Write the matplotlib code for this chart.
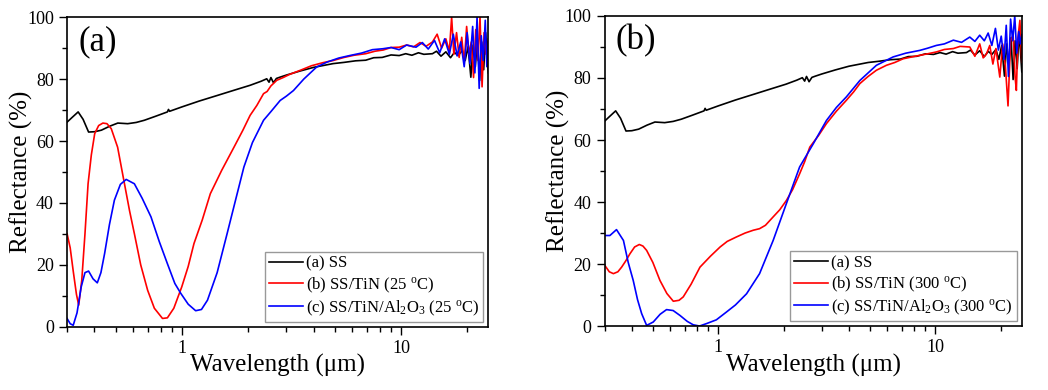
import matplotlib
matplotlib.use('Agg')
import matplotlib.pyplot as plt
from matplotlib.ticker import MultipleLocator, LogLocator, NullFormatter

plt.rcParams['font.family'] = ['Liberation Serif', 'DejaVu Serif']
plt.rcParams['mathtext.fontset'] = 'custom'
plt.rcParams['mathtext.rm'] = 'Liberation Serif'
plt.rcParams['mathtext.it'] = 'Liberation Serif:italic'

# SS substrate (same sample in both panels)
wl_ss = [0.30, 0.315, 0.337, 0.355, 0.376, 0.40, 0.43, 0.47, 0.511, 0.567, 0.62, 0.675, 0.76,
         0.86, 0.87, 0.88, 1.0, 1.2, 1.45, 1.75, 2.05, 2.3, 2.44, 2.5, 2.55, 2.62, 2.7, 2.8,
         3.0, 3.46, 4.0, 4.9, 5.5, 6.2, 6.9, 7.5, 8.2, 9.0, 9.8, 10.5, 11.2, 12.0, 12.7, 13.9,
         14.5, 15.2, 16.0, 16.8, 17.5, 18.2, 19.0, 19.6, 20.2, 20.8, 21.3, 21.8, 22.3, 22.8,
         23.3, 23.8, 24.3, 25.0]
r_ss = [66.1, 67.5, 69.4, 67.0, 62.9, 63.0, 63.5, 64.8, 65.8, 65.6, 66.0, 66.7, 68.0,
        69.4, 70.2, 69.6, 71.0, 72.9, 74.7, 76.5, 78.0, 79.3, 80.1, 79.0, 80.5, 78.8, 80.2, 80.6,
        81.3, 82.6, 83.8, 85.0, 85.4, 85.9, 86.1, 86.9, 87.0, 87.8, 87.6, 88.2, 87.7, 88.5, 88.0, 88.2,
        89.0, 87.4, 88.8, 86.9, 88.6, 87.6, 89.2, 86.0, 90.5, 80.6, 91.0, 84.0, 93.0, 79.5,
        92.0, 83.0, 95.0, 82.0]

# (a) as-deposited, 25 C
wl_tin_25 = [0.30, 0.31, 0.32, 0.331, 0.339, 0.35, 0.362, 0.374, 0.387, 0.401, 0.418, 0.437, 0.456,
             0.477, 0.51, 0.548, 0.578, 0.608, 0.65, 0.699, 0.75, 0.817, 0.86, 0.92, 1.0, 1.07,
             1.137, 1.24, 1.35, 1.52, 1.73, 1.9, 2.05, 2.2, 2.36, 2.45, 2.55, 2.71, 2.9, 3.1, 3.46,
             3.9, 4.4, 4.9, 5.5, 6.1, 6.9, 7.6, 8.3, 9.0, 9.8, 10.6, 11.4, 12.2, 13.0, 13.9, 14.6,
             15.3, 16.0, 16.6, 17.0, 17.4, 17.9, 18.4, 18.9, 19.4, 19.9, 20.4, 20.9, 21.4, 21.9,
             22.4, 22.9, 23.4, 23.9, 24.4, 25.0]
r_tin_25 = [30.1, 25.5, 18.0, 10.5, 7.0, 15.0, 30.0, 46.2, 55.5, 62.4, 65.0, 65.8, 65.6,
            64.0, 58.0, 46.2, 37.5, 30.1, 20.0, 11.8, 6.0, 2.7, 2.9, 6.0, 12.9, 19.5,
            26.9, 34.5, 43.0, 50.5, 58.0, 63.5, 68.3, 71.5, 75.3, 76.0, 77.8, 79.6, 80.5, 81.5, 82.8,
            84.3, 85.3, 86.0, 87.0, 87.7, 88.2, 89.0, 89.4, 90.2, 90.3, 91.0, 90.4, 91.8, 90.6, 92.0, 94.5,
            90.0, 93.0, 89.0, 100.0, 88.0, 95.0, 87.0, 93.5, 85.0, 97.0, 88.0, 92.0, 80.5, 96.0,
            86.0, 100.0, 77.5, 95.0, 88.0, 93.0]

wl_al_25 = [0.30, 0.31, 0.32, 0.333, 0.348, 0.362, 0.376, 0.394, 0.412, 0.428, 0.445, 0.468, 0.493,
            0.525, 0.558, 0.608, 0.66, 0.724, 0.79, 0.86, 0.93, 0.99, 1.07, 1.157, 1.23, 1.31, 1.45,
            1.61, 1.76, 1.92, 2.1, 2.36, 2.55, 2.81, 3.0, 3.23, 3.6, 4.12, 4.6, 5.2, 5.83, 6.6, 7.4,
            8.26, 9.0, 9.8, 10.6, 11.7, 12.5, 13.3, 14.2, 15.0, 15.8, 16.6, 17.3, 18.0, 18.7, 19.4,
            20.0, 20.6, 21.2, 21.7, 22.2, 22.7, 23.2, 23.7, 24.2, 24.6, 25.0]
r_al_25 = [2.7, 1.0, 0.5, 4.5, 12.9, 17.5, 18.0, 15.5, 14.2, 17.5, 23.7, 33.0, 40.9,
           46.0, 47.6, 46.2, 41.5, 35.5, 27.5, 20.4, 14.0, 10.8, 7.3, 5.2, 5.6, 8.6, 17.5,
           30.1, 41.0, 51.6, 59.5, 66.7, 69.5, 73.1, 74.5, 76.3, 80.0, 83.9, 85.5, 86.8, 87.6, 88.4, 89.5,
           89.8, 90.2, 89.5, 91.0, 90.3, 91.8, 89.7, 92.5, 88.5, 93.0, 88.0, 94.5, 87.5, 92.0, 84.0,
           95.0, 85.0, 97.0, 82.0, 100.0, 77.0, 94.0, 86.0, 99.0, 84.0, 92.0]

# (b) annealed, 300 C
wl_tin_300 = [0.30, 0.315, 0.329, 0.345, 0.359, 0.375, 0.392, 0.412, 0.433, 0.45, 0.468, 0.50, 0.539,
              0.58, 0.621, 0.66, 0.69, 0.75, 0.824, 0.92, 1.02, 1.1, 1.21, 1.33, 1.45, 1.55, 1.65,
              1.79, 1.92, 2.06, 2.2, 2.37, 2.5, 2.64, 2.9, 3.15, 3.5, 3.89, 4.2, 4.49, 4.9, 5.35,
              5.95, 6.5, 7.1, 7.8, 8.47, 9.2, 10.1, 11.0, 12.1, 13.0, 14.4, 15.2, 16.0, 16.6, 17.2,
              17.8, 18.4, 19.0, 19.8, 20.4, 21.0, 21.6, 22.2, 22.8, 23.3, 23.6, 24.0, 24.5, 25.0]
r_tin_300 = [19.6, 17.5, 16.9, 17.5, 19.0, 21.0, 23.3, 25.5, 26.3, 25.8, 24.4, 20.5, 14.7,
             10.5, 8.0, 8.3, 9.4, 13.5, 19.0, 22.5, 25.5, 27.3, 28.7, 30.0, 30.9, 31.4, 32.5,
             35.2, 37.5, 40.5, 44.0, 49.1, 53.0, 57.7, 61.5, 65.3, 69.3, 72.8, 75.5, 78.2, 80.5, 82.5,
             84.1, 85.0, 86.2, 86.8, 87.3, 87.8, 88.4, 89.2, 89.5, 90.2, 90.0, 87.0, 91.0, 86.5, 87.8,
             90.5, 84.5, 89.5, 80.3, 91.0, 84.0, 71.0, 92.0, 94.0, 80.0, 76.0, 93.0, 98.6, 85.0]

wl_al_300 = [0.30, 0.317, 0.34, 0.366, 0.385, 0.406, 0.425, 0.444, 0.468, 0.502, 0.54, 0.578, 0.62,
             0.667, 0.72, 0.767, 0.82, 0.884, 0.98, 1.09, 1.2, 1.35, 1.55, 1.79, 2.06, 2.37, 2.74,
             3.15, 3.5, 3.89, 4.49, 5.35, 6.39, 7.3, 8.47, 9.2, 10.1, 11.0, 12.1, 13.2, 14.4, 15.2,
             16.0, 16.8, 17.5, 18.2, 18.9, 19.5, 20.1, 20.7, 21.2, 21.7, 22.2, 22.7, 23.2, 23.7,
             24.2, 24.6, 25.0]
r_al_300 = [29.2, 29.2, 31.1, 27.6, 20.5, 14.7, 8.5, 4.0, 0.2, 1.3, 3.8, 5.3, 5.0,
            3.4, 1.5, 0.4, 0.0, 0.8, 2.0, 4.5, 6.8, 10.4, 16.9, 27.6, 39.5, 51.3, 58.8,
            66.3, 70.5, 73.9, 79.2, 84.1, 86.8, 88.0, 88.9, 89.6, 90.5, 91.0, 92.2, 91.5, 93.2, 91.8,
            93.8, 92.0, 94.5, 90.5, 96.0, 89.0, 93.5, 86.0, 97.0, 80.5, 99.0, 92.0, 100.0, 88.0,
            95.0, 91.0, 94.0]

panels = [
    ('(a)', '25', (wl_tin_25, r_tin_25), (wl_al_25, r_al_25), [0.064, 0.162, 0.402, 0.794]),
    ('(b)', '300', (wl_tin_300, r_tin_300), (wl_al_300, r_al_300), [0.577, 0.164, 0.398, 0.795]),
]

fig = plt.figure(figsize=(10.48, 3.9), dpi=100)

for tag, temp, tin, al, rect in panels:
    ax = fig.add_axes(rect)
    ax.plot(wl_ss, r_ss, color='black', lw=1.2, label='(a) SS')
    ax.plot(tin[0], tin[1], color='red', lw=1.2,
            label='(b) SS/TiN (%s $^{\\rm o}$C)' % temp)
    ax.plot(al[0], al[1], color='blue', lw=1.2,
            label='(c) SS/TiN/Al$_2$O$_3$ (%s $^{\\rm o}$C)' % temp)

    ax.set_xscale('log')
    ax.set_xlim(0.3, 25)
    ax.set_ylim(0, 100)
    ax.yaxis.set_major_locator(MultipleLocator(20))
    ax.yaxis.set_minor_locator(MultipleLocator(10))
    ax.xaxis.set_minor_locator(LogLocator(base=10, subs=range(2, 10), numticks=20))
    ax.xaxis.set_minor_formatter(NullFormatter())
    ax.set_xticks([1, 10])
    ax.set_xticklabels(['1', '10'])
    ax.tick_params(which='major', direction='out', length=6, width=1, labelsize=13)
    ax.tick_params(which='minor', direction='out', length=3.5, width=1)
    ax.tick_params(top=False, right=False, which='both')
    for s in ax.spines.values():
        s.set_linewidth(1.2)

    ax.set_xlabel('Wavelength (μm)', fontsize=18, labelpad=-2)
    ax.set_ylabel('Reflectance (%)', fontsize=18, labelpad=-4)
    ax.text(0.026, 0.92, tag, transform=ax.transAxes, fontsize=25, ha='left', va='center')

    leg = ax.legend(loc='lower right', fontsize=12, frameon=True, fancybox=False,
                    edgecolor='#999999', framealpha=1, handlelength=2.0,
                    handletextpad=0.2, borderaxespad=0.3, labelspacing=0.22,
                    borderpad=0.25)
    leg.get_frame().set_linewidth(1.0)

fig.savefig('out.png', dpi=100)
